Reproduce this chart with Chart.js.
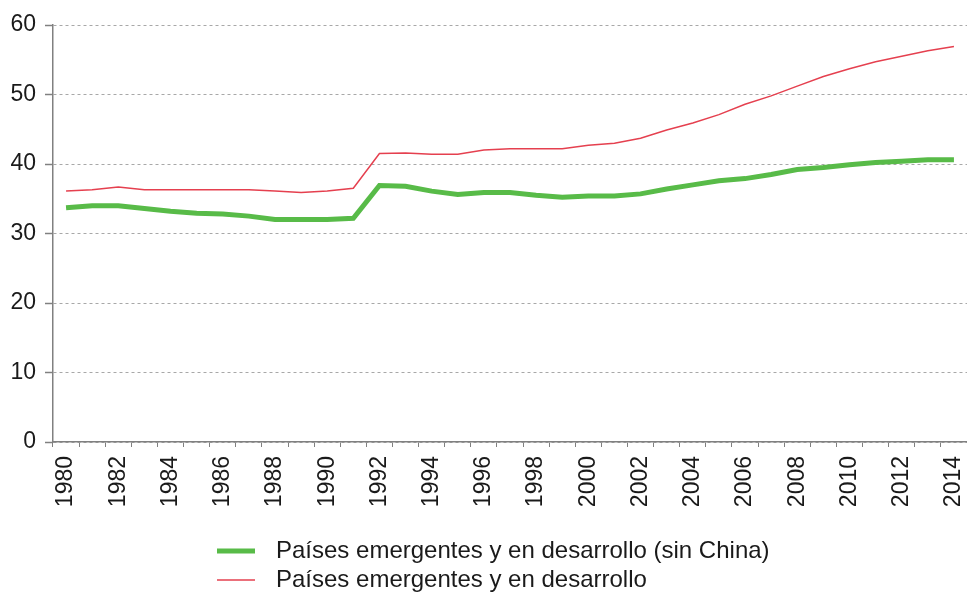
<!DOCTYPE html>
<html>
<head>
<meta charset="utf-8">
<script src="https://cdn.jsdelivr.net/npm/chart.js@4/dist/chart.umd.min.js"></script>
<style>
html,body{margin:0;padding:0;background:#fff;}
#wrap{position:relative;width:967px;height:601px;}
</style>
</head>
<body>
<div id="wrap"><canvas id="c" width="967" height="601"></canvas></div>
<script>
const years = ["1980","1981","1982","1983","1984","1985","1986","1987","1988","1989","1990","1991","1992","1993","1994","1995","1996","1997","1998","1999","2000","2001","2002","2003","2004","2005","2006","2007","2008","2009","2010","2011","2012","2013","2014"];
const sinChina = [33.7,34.0,34.0,33.6,33.2,32.9,32.8,32.5,32.0,32.0,32.0,32.2,36.9,36.8,36.1,35.6,35.9,35.9,35.5,35.2,35.4,35.4,35.7,36.4,37.0,37.6,37.9,38.5,39.2,39.5,39.9,40.2,40.4,40.6,40.6];
const total = [36.1,36.3,36.7,36.3,36.3,36.3,36.3,36.3,36.1,35.9,36.1,36.5,41.5,41.6,41.4,41.4,42.0,42.2,42.2,42.2,42.7,43.0,43.7,44.9,45.9,47.1,48.6,49.8,51.2,52.6,53.7,54.7,55.5,56.3,56.9];
const seriesNames = ["Países emergentes y en desarrollo (sin China)", "Países emergentes y en desarrollo"];
const yTicks = [0,10,20,30,40,50,60];

const FONT = "'Liberation Sans', Arial, sans-serif";

const legendPlugin = {
  id: 'leftLegend',
  afterDraw(chart) {
    const ctx = chart.ctx;
    ctx.save();
    ctx.font = "24px " + FONT;
    ctx.textBaseline = 'middle';
    ctx.textAlign = 'left';
    const rows = [551, 580];
    chart.data.datasets.forEach((ds, i) => {
      const y = rows[i];
      ctx.strokeStyle = ds.borderColor;
      ctx.lineWidth = ds.borderWidth;
      ctx.beginPath();
      ctx.moveTo(217, y);
      ctx.lineTo(255, y);
      ctx.stroke();
      ctx.fillStyle = '#1a1a1a';
      ctx.fillText(ds.label, 276, y);
    });
    ctx.restore();
  }
};

new Chart(document.getElementById('c'), {
  type: 'line',
  data: {
    labels: years,
    datasets: [
      { label: seriesNames[0], data: sinChina, borderColor: '#58bb48', backgroundColor: '#58bb48', borderWidth: 5, pointRadius: 0, tension: 0 },
      { label: seriesNames[1], data: total, borderColor: '#e5404f', backgroundColor: '#e5404f', borderWidth: 1.5, pointRadius: 0, tension: 0 }
    ]
  },
  options: {
    responsive: false,
    animation: false,
    layout: { padding: { top: 25, right: 0, left: 0, bottom: 90 } },
    plugins: { legend: { display: false }, tooltip: { enabled: false } },
    scales: {
      x: {
        offset: true,
        grid: { offset: true, drawOnChartArea: false, drawTicks: true, tickLength: 5, color: '#808080', tickColor: '#808080' },
        border: { display: true, color: '#808080', width: 1.5 },
        ticks: {
          autoSkip: false, maxRotation: 90, minRotation: 90, padding: 9,
          color: '#1a1a1a', font: { family: FONT, size: 23 },
          callback: function(v, i) { return i % 2 === 0 ? years[i] : ''; }
        },
        afterFit(s) { s.height = 69; s.paddingRight = 0; s.paddingLeft = 0; }
      },
      y: {
        min: 0, max: 60,
        afterBuildTicks(s) { s.ticks = yTicks.map(v => ({ value: v })); },
        grid: { color: '#a8a8a8', lineWidth: 1, drawTicks: true, tickLength: 8, tickColor: '#808080', tickWidth: 1.5 },
        border: { display: true, color: '#808080', width: 1.5, dash: [3, 3] },
        ticks: { padding: 9, color: '#1a1a1a', font: { family: FONT, size: 23 } },
        afterFit(s) { s.width = 53; }
      }
    }
  },
  plugins: [legendPlugin]
});
</script>
</body>
</html>
